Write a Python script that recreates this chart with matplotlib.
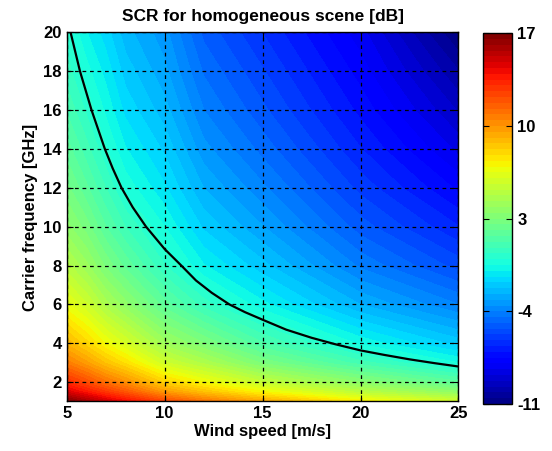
import numpy as np
import matplotlib
matplotlib.use("Agg")
from matplotlib import pyplot as plt

# SCR grid (rows = frequency, cols = wind speed)
wind = [5, 6, 7, 8, 10, 12, 15, 20, 25]                     # m/s
freq = [1, 1.5, 2, 3, 4, 6, 8, 10, 12, 14, 16, 18, 20]       # GHz
scr = np.array([
    [17.0, 16.0, 15.0, 14.1, 12.3, 11.0, 9.5, 7.3, 5.8],
    [14.7, 13.7, 12.7, 11.8, 9.8, 8.6, 7.0, 5.0, 3.5],
    [13.1, 12.1, 11.0, 10.1, 8.1, 6.9, 5.3, 3.4, 1.8],
    [10.7, 9.7, 8.6, 7.7, 5.7, 4.6, 2.9, 1.0, -0.5],
    [9.0, 8.0, 6.9, 6.0, 4.1, 3.0, 1.3, -0.6, -2.0],
    [6.6, 5.7, 4.5, 3.6, 1.9, 0.6, -0.8, -2.7, -4.0],
    [4.9, 4.0, 2.9, 2.0, 0.4, -0.9, -2.1, -4.1, -5.5],
    [3.6, 2.8, 1.7, 0.8, -0.5, -1.9, -3.1, -5.1, -6.6],
    [2.7, 1.8, 0.8, -0.2, -1.3, -2.7, -3.9, -5.9, -7.6],
    [1.9, 1.0, 0.0, -0.9, -1.9, -3.4, -4.6, -6.6, -8.5],
    [1.2, 0.3, -0.6, -1.5, -2.5, -4.0, -5.2, -7.2, -9.3],
    [0.6, -0.3, -1.1, -2.0, -3.0, -4.5, -5.7, -7.7, -10.1],
    [0.1, -0.9, -1.6, -2.5, -3.4, -5.0, -6.2, -8.2, -11.0],
])

# 0 dB line
line_wind = [5.2, 5.68, 6.27, 6.95, 7.35, 7.8, 8.37, 9.05, 10, 10.85, 11.6, 12.4,
             13.3, 14.1, 15, 16.2, 17.5, 18.7, 20, 21.2, 22.5, 23.8, 25]
line_freq = [20, 18, 16, 14, 13, 12, 11, 10, 8.85, 8, 7.23, 6.6,
             6, 5.6, 5.21, 4.7, 4.28, 3.95, 3.63, 3.4, 3.17, 2.97, 2.8]

cbar_ticks = [-11, -4, 3, 10, 17]

plt.rcParams['font.family'] = ['Liberation Sans', 'DejaVu Sans']
plt.rcParams['font.weight'] = 'bold'
plt.rcParams['font.size'] = 12
plt.rcParams['axes.unicode_minus'] = False

fig = plt.figure(figsize=(5.52, 4.51), dpi=100)
ax = fig.add_axes([0.1208, 0.1098, 0.7098, 0.8182])
cax = fig.add_axes([0.8745, 0.1042, 0.0536, 0.822])

V, F = np.meshgrid(wind, freq)
Z = np.clip(scr, -11, 17)
cf = ax.contourf(V, F, Z, levels=np.linspace(-11, 17, 65), cmap='jet')
ax.plot(line_wind, line_freq, color='k', linewidth=1.6)

ax.set_xlim(5, 25)
ax.set_ylim(1, 20)
ax.set_xticks([5, 10, 15, 20, 25])
ax.set_yticks([2, 4, 6, 8, 10, 12, 14, 16, 18, 20])
ax.grid(True, color='k', linestyle=(0, (3, 3)), linewidth=0.9)
ax.set_axisbelow(False)
ax.tick_params(direction='in', top=True, right=True, length=4)
for s in ax.spines.values():
    s.set_linewidth(1.0)
ax.set_xlabel('Wind speed [m/s]', fontweight='bold', labelpad=2)
ax.set_ylabel('Carrier frequency [GHz]', fontweight='bold', labelpad=4)
ax.set_title('SCR for homogeneous scene [dB]', fontweight='bold', fontsize=12.5, pad=8)

cb = fig.colorbar(cf, cax=cax)
cb.set_ticks(cbar_ticks)
cb.ax.tick_params(direction='in', left=True, right=True, length=4)
cb.outline.set_linewidth(1.0)

fig.savefig('out.png', dpi=100)
